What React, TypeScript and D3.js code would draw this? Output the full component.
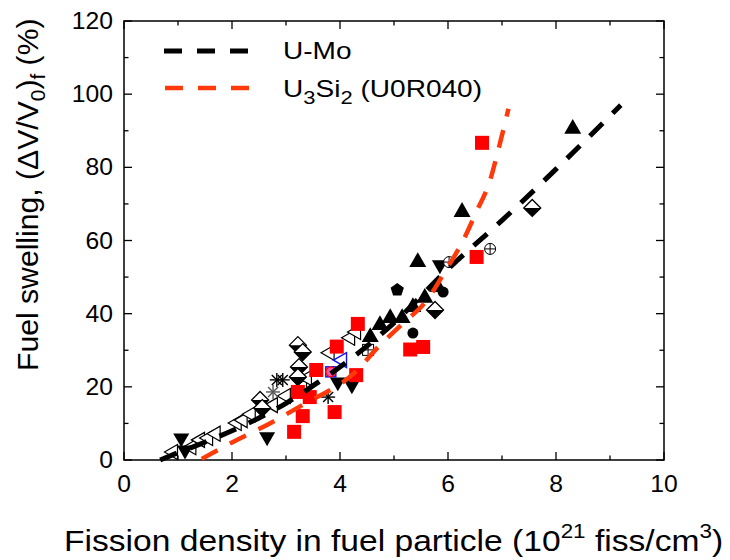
import React from "react";
import * as d3 from "d3";

const W = 730, H = 560;
const xTicks = [0, 2, 4, 6, 8, 10];
const yTicks = [0, 20, 40, 60, 80, 100, 120];

// fitted curves
const umoCurve: [number, number][] = [[0.67,0],[1,2],[1.35,4],[2,8],[2.5,11.5],[3,15.5],[3.6,21.3],[4.1,26.5],[5,37.5],[6,52.2],[7,65.5],[8,79.5],[9.2,97]];
const u3si2Curve: [number, number][] = [[1.44,0.3],[2,4.8],[2.7,10],[3.3,15],[4.28,24],[4.74,31.4],[5.17,37.4],[5.6,43.5],[5.94,51.4],[6.28,60],[6.53,68],[6.78,76.5],[6.93,84.7],[7.12,96]];

// scatter data
const redSquares: [number, number][] = [[3.15,7.7],[3.31,12],[3.22,18.6],[3.44,17.2],[3.56,24.6],[3.9,13.1],[4.3,23.2],[3.94,31],[4.33,37.2],[5.3,30.2],[5.54,30.9],[6.53,55.5],[6.63,86.7]];
const upTriangles: [number, number][] = [[4.74,36.9],[4.93,38.8],[5.15,38.8],[5.35,41.8],[5.57,44.3],[5.81,47.3],[4.56,33.6],[5.44,54.1],[6.26,67.8],[8.31,90.5]];
const downTriangles: [number, number][] = [[1.06,6.0],[1.13,2.7],[2.65,6.3],[3.96,21.3],[4.22,20.5],[5.85,53.3]];
const filledCircles: [number, number][] = [[5.91,45.9],[5.35,34.7]];
const pentagons: [number, number][] = [[5.06,46.5]];
const circlePlus: [number, number][] = [[6.02,54.1],[6.78,57.7]];
const squarePlus: [number, number][] = [[4.52,30.1]];
const halfDiamonds: [number, number][] = [[3.22,31.4],[3.31,29.5],[3.24,25.4],[3.22,22.7],[2.52,16.4],[2.56,14.2],[7.56,68.9],[5.76,41.0]];
const leftTriangles: [number, number][] = [[0.91,2.2],[1.25,3.5],[1.41,5.5],[1.56,6.0],[1.7,7.2],[2.09,10.1],[2.2,10.9],[2.35,12.5],[2.76,15.0],[3.0,17.5],[3.3,20.0],[3.39,22.4],[3.81,29.3],[4.19,33.4],[4.3,35]];
const blueLeftTriangles: [number, number][] = [[4.04,27.3]];
const asterisks: [number, number][] = [[2.83,21.9],[2.94,21.9],[2.76,18.6],[3.78,17.2]];
const pinkCircles: [number, number][] = [[3.83,24.1]];

const x = d3.scaleLinear().domain([0, 10]).range([124, 664]);
const y = d3.scaleLinear().domain([0, 120]).range([460, 21]);

const FONT = "'Liberation Sans', Arial, Helvetica, sans-serif";

function triUp(s: number) {
  const h = s * 0.87;
  return `M0,${-h * 2 / 3}L${s / 2},${h / 3}L${-s / 2},${h / 3}Z`;
}
function triDown(s: number) {
  const h = s * 0.87;
  return `M0,${h * 2 / 3}L${s / 2},${-h / 3}L${-s / 2},${-h / 3}Z`;
}
function triLeft(s: number) {
  const h = s * 0.87;
  return `M${-h * 2 / 3},0L${h / 3},${-s / 2}L${h / 3},${s / 2}Z`;
}
function pentagon(r: number) {
  const pts = d3.range(5).map(i => {
    const a = -Math.PI / 2 + i * 2 * Math.PI / 5;
    return [r * Math.cos(a), r * Math.sin(a)];
  });
  return "M" + pts.map(p => p.join(",")).join("L") + "Z";
}

export default function App() {
  const line = d3.line<[number, number]>().x(d => x(d[0])).y(d => y(d[1])).curve(d3.curveMonotoneX);
  const minorX = d3.range(0, 11, 1);
  const minorY = d3.range(0, 121, 10);
  const L = 124, R = 664, T = 21, B = 460;
  const diamond = (s: number) => `M0,${-s}L${s},0L0,${s}L${-s},0Z`;
  return (
    <svg width={W} height={H} style={{ position: "absolute", left: 0, top: 0, background: "#fff" }} fontFamily={FONT}>
      <rect x={0} y={0} width={W} height={H} fill="#fff" />
      {/* frame */}
      <rect x={L} y={T} width={R - L} height={B - T} fill="none" stroke="#000" strokeWidth={1.5} />
      {/* ticks */}
      {minorX.map(v => {
        const major = v % 2 === 0;
        const len = major ? 8 : 4.5;
        return (
          <g key={"xt" + v}>
            <line x1={x(v)} x2={x(v)} y1={B} y2={B - len} stroke="#000" strokeWidth={1.3} />
            <line x1={x(v)} x2={x(v)} y1={T} y2={T + len} stroke="#000" strokeWidth={1.3} />
          </g>
        );
      })}
      {minorY.map(v => {
        const major = v % 20 === 0;
        const len = major ? 8 : 4.5;
        return (
          <g key={"yt" + v}>
            <line x1={L} x2={L + len} y1={y(v)} y2={y(v)} stroke="#000" strokeWidth={1.3} />
            <line x1={R} x2={R - len} y1={y(v)} y2={y(v)} stroke="#000" strokeWidth={1.3} />
          </g>
        );
      })}
      {xTicks.map(v => (
        <text key={"xl" + v} transform={`translate(${x(v)},${B + 32}) scale(1.05,1)`} fontSize={23.5} textAnchor="middle">{v}</text>
      ))}
      {yTicks.map(v => (
        <text key={"yl" + v} transform={`translate(${L - 11},${y(v) + 8}) scale(1.05,1)`} fontSize={23.5} textAnchor="end">{v}</text>
      ))}

      {/* scatter markers */}
      {leftTriangles.map((d, i) => (
        <path key={"lt" + i} d={triLeft(15)} transform={`translate(${x(d[0])},${y(d[1])})`} fill="#fff" stroke="#000" strokeWidth={1.2} />
      ))}
      {blueLeftTriangles.map((d, i) => (
        <path key={"blt" + i} d={triLeft(15)} transform={`translate(${x(d[0])},${y(d[1])})`} fill="#fff" stroke="#1010ff" strokeWidth={1.4} />
      ))}
      {halfDiamonds.map((d, i) => (
        <g key={"hd" + i} transform={`translate(${x(d[0])},${y(d[1])})`}>
          <path d={diamond(8.5)} fill="#fff" stroke="#000" strokeWidth={1.3} />
          <path d="M-8.5,0L8.5,0L0,8.5Z" fill="#000" />
        </g>
      ))}
      {asterisks.map((d, i) => (
        <g key={"as" + i} transform={`translate(${x(d[0])},${y(d[1])})`} stroke={i === 2 ? "#555" : "#000"} strokeWidth={1.4}>
          <line x1={-7} x2={7} y1={0} y2={0} />
          <line x1={0} x2={0} y1={-7} y2={7} />
          <line x1={-5} x2={5} y1={-5} y2={5} />
          <line x1={-5} x2={5} y1={5} y2={-5} />
        </g>
      ))}
      {downTriangles.map((d, i) => (
        <path key={"dt" + i} d={triDown(16)} transform={`translate(${x(d[0])},${y(d[1])})`} fill="#000" />
      ))}
      {upTriangles.map((d, i) => (
        <path key={"ut" + i} d={triUp(17)} transform={`translate(${x(d[0])},${y(d[1])})`} fill="#000" />
      ))}
      {filledCircles.map((d, i) => (
        <circle key={"fc" + i} cx={x(d[0])} cy={y(d[1])} r={5.5} fill="#000" />
      ))}
      {pentagons.map((d, i) => (
        <path key={"pg" + i} d={pentagon(7)} transform={`translate(${x(d[0])},${y(d[1])})`} fill="#000" />
      ))}
      {circlePlus.map((d, i) => (
        <g key={"cp" + i} transform={`translate(${x(d[0])},${y(d[1])})`} stroke="#000" strokeWidth={1} fill="#fff">
          <circle r={5.5} />
          <line x1={-5.5} x2={5.5} y1={0} y2={0} />
          <line x1={0} x2={0} y1={-5.5} y2={5.5} />
        </g>
      ))}
      {squarePlus.map((d, i) => (
        <g key={"sp" + i} transform={`translate(${x(d[0])},${y(d[1])})`} stroke="#000" strokeWidth={1} fill="#fff">
          <rect x={-5.5} y={-5.5} width={11} height={11} />
          <line x1={-5.5} x2={5.5} y1={0} y2={0} />
          <line x1={0} x2={0} y1={-5.5} y2={5.5} />
        </g>
      ))}
      {pinkCircles.map((d, i) => (
        <g key={"pc" + i} transform={`translate(${x(d[0])},${y(d[1])})`}>
          <rect x={-5} y={-5} width={10} height={10} fill="none" stroke="#1010ff" strokeWidth={1.5} />
          <circle r={5} fill="#ff55aa" stroke="#ff0000" strokeWidth={1.2} />
        </g>
      ))}
      {redSquares.map((d, i) => (
        <rect key={"rs" + i} x={x(d[0]) - 7} y={y(d[1]) - 7} width={14} height={14} fill="#ff0000" />
      ))}

      {/* fitted curves */}
      <path d={line(umoCurve) || ""} fill="none" stroke="#000" strokeWidth={5} strokeDasharray="18,14" />
      <path d={line(u3si2Curve) || ""} fill="none" stroke="#ff3a0a" strokeWidth={4.5} strokeDasharray="18,14" />

      {/* legend */}
      <line x1={164} x2={250} y1={51} y2={51} stroke="#000" strokeWidth={5} strokeDasharray="18,15" />
      <line x1={165} x2={251} y1={88} y2={88} stroke="#ff3a0a" strokeWidth={4.5} strokeDasharray="18,15" />
      <text transform="translate(283,59) scale(1.22,1)" fontSize={23}>U-Mo</text>
      <text transform="translate(283,97) scale(1.22,1)" fontSize={23}>
        U<tspan dy={7} fontSize={18}>3</tspan><tspan dy={-7}>Si</tspan><tspan dy={7} fontSize={18}>2</tspan><tspan dy={-7}> (U0R040)</tspan>
      </text>

      {/* axis titles */}
      <text transform="translate(64,551) scale(1.12,1)" fontSize={30}>
        Fission density in fuel particle (10<tspan dy={-13} fontSize={20}>21</tspan><tspan dy={13}> fiss/cm</tspan><tspan dy={-13} fontSize={20}>3</tspan><tspan dy={13}>)</tspan>
      </text>
      <text transform="translate(38,371) rotate(-90) scale(1.04,1)" fontSize={29}>
        Fuel swelling, (ΔV/V<tspan dy={7} fontSize={20}>0</tspan><tspan dy={-7}>)</tspan><tspan dy={7} fontSize={20}>f</tspan><tspan dy={-7}> (%)</tspan>
      </text>
    </svg>
  );
}
